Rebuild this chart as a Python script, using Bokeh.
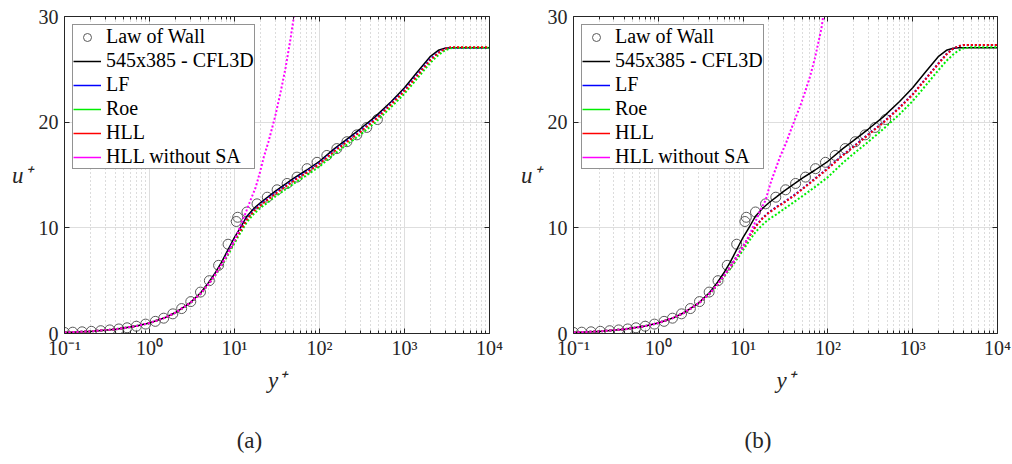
from bokeh.plotting import figure
from bokeh.models import (Range1d, FixedTicker, LogAxis, LinearAxis, Legend, LegendItem,
                          CustomJSTickFormatter)
from bokeh.layouts import row
from bokeh.embed import file_html
from bokeh.resources import INLINE

# ---------------- data ----------------
wall_yp = [0.1, 0.125, 0.161, 0.207, 0.267, 0.341, 0.436, 0.545, 0.70, 0.90, 1.17, 1.47,
           1.88, 2.39, 3.06, 3.98, 5.06, 6.5, 8.4, 10.5, 10.9, 14.0, 18.4, 24.3, 31.7, 41.6,
           54.4, 71.4, 93.6, 122, 160, 210, 275, 360, 480]
wall_up = [0.1, 0.125, 0.16, 0.205, 0.265, 0.34, 0.43, 0.54, 0.69, 0.89, 1.15, 1.45,
           1.86, 2.36, 3.02, 3.92, 5.0, 6.45, 8.45, 10.6, 11.0, 11.5, 12.27, 12.9, 13.6, 14.2,
           14.8, 15.6, 16.2, 16.85, 17.5, 18.15, 18.8, 19.5, 20.25]

grid_yp = [0.1, 0.2, 0.4, 0.7, 1, 1.5, 2, 3, 4, 5, 6, 7, 8, 9, 10, 11, 12, 14, 17, 20,
           25, 30, 40, 50, 70, 100, 150, 200, 300, 450, 700, 1000, 1400, 2000, 2500,
           3000, 3500, 4000, 5000, 10000]

cfl3d_up = [0.1, 0.2, 0.4, 0.7, 0.99, 1.48, 1.96, 2.9, 3.85, 4.85, 5.8, 6.7, 7.6, 8.4, 9.1,
            9.65, 10.15, 11.1, 11.85, 12.35, 12.95, 13.45, 14.15, 14.7, 15.45, 16.3, 17.5,
            18.25, 19.35, 20.5, 21.95, 23.25, 24.7, 26.2, 26.8, 27.0, 27.05, 27.05, 27.05, 27.05]

# panel (a)
a_lf_up = [0.1, 0.2, 0.4, 0.7, 0.99, 1.48, 1.95, 2.88, 3.8, 4.8, 5.7, 6.55, 7.4, 8.2, 8.85,
           9.45, 9.95, 10.9, 11.7, 12.2, 12.8, 13.3, 14.0, 14.55, 15.3, 16.15, 17.35, 18.1,
           19.15, 20.3, 21.8, 23.05, 24.45, 25.95, 26.6, 26.95, 27.05, 27.05, 27.05, 27.05]
a_roe_up = [0.1, 0.2, 0.4, 0.7, 0.99, 1.48, 1.94, 2.86, 3.75, 4.7, 5.55, 6.35, 7.15, 7.9, 8.55,
            9.15, 9.65, 10.55, 11.35, 11.85, 12.45, 12.95, 13.65, 14.2, 14.95, 15.8, 17.0, 17.75,
            18.8, 19.95, 21.45, 22.7, 24.1, 25.6, 26.35, 26.8, 27.0, 27.05, 27.05, 27.05]
a_hll_up = [0.1, 0.2, 0.4, 0.7, 0.99, 1.48, 1.95, 2.88, 3.78, 4.75, 5.65, 6.5, 7.3, 8.1, 8.75,
            9.35, 9.85, 10.8, 11.6, 12.1, 12.7, 13.2, 13.9, 14.45, 15.2, 16.05, 17.25, 18.0,
            19.05, 20.2, 21.7, 22.95, 24.35, 25.85, 26.55, 26.95, 27.1, 27.1, 27.1, 27.1]
a_nosa_yp = [0.1, 0.2, 0.4, 0.7, 1, 1.5, 2, 3, 4, 5, 6, 7, 8, 9, 10, 11, 12, 13.5, 15.4,
             17.7, 20, 22.1, 25, 30, 35, 40, 45, 50, 54]
a_nosa_up = [0.1, 0.2, 0.4, 0.7, 0.99, 1.48, 1.95, 2.87, 3.77, 4.7, 5.6, 6.45, 7.3, 8.1, 8.8,
             9.6, 10.4, 11.4, 12.6, 13.8, 15.3, 16.7, 18.1, 20.5, 22.9, 25.2, 27.6, 30.0, 31.9]

# panel (b)
b_lf_up = [0.1, 0.2, 0.4, 0.7, 0.99, 1.48, 1.95, 2.87, 3.76, 4.67, 5.52, 6.28, 7.0, 7.65, 8.25,
           8.8, 9.3, 10.15, 10.95, 11.45, 12.0, 12.4, 13.1, 13.7, 14.65, 15.65, 16.9, 17.7,
           18.85, 20.0, 21.4, 22.65, 24.05, 25.55, 26.45, 26.95, 27.2, 27.3, 27.3, 27.3]
b_roe_up = [0.1, 0.2, 0.4, 0.7, 0.99, 1.48, 1.94, 2.85, 3.72, 4.6, 5.4, 6.1, 6.75, 7.35, 7.9,
            8.4, 8.85, 9.6, 10.3, 10.8, 11.3, 11.75, 12.45, 13.0, 13.85, 14.8, 16.15, 17.0,
            18.15, 19.35, 20.75, 22.0, 23.4, 24.9, 25.8, 26.4, 26.8, 27.0, 27.1, 27.1]
b_hll_up = [0.1, 0.2, 0.4, 0.7, 0.99, 1.48, 1.95, 2.87, 3.75, 4.65, 5.5, 6.25, 6.95, 7.6, 8.2,
            8.75, 9.25, 10.1, 10.9, 11.4, 11.95, 12.35, 13.05, 13.65, 14.6, 15.6, 16.85, 17.65,
            18.8, 19.95, 21.35, 22.6, 24.0, 25.5, 26.4, 26.95, 27.2, 27.3, 27.3, 27.3]
b_nosa_yp = [0.1, 0.2, 0.4, 0.7, 1, 1.5, 2, 3, 4, 5, 6, 7, 8, 9, 10, 11, 12, 14, 16, 18.4,
             21, 24, 27.5, 32, 36, 41, 47.5, 54, 62, 70, 77, 84, 88, 92]
b_nosa_up = [0.1, 0.2, 0.4, 0.7, 0.99, 1.48, 1.95, 2.87, 3.75, 4.65, 5.5, 6.25, 6.95, 7.6, 8.2,
             8.8, 9.4, 10.6, 11.7, 12.6, 14.2, 15.5, 16.8, 18.0, 19.1, 20.3, 21.6, 22.9, 24.4,
             26.0, 27.5, 28.9, 30.0, 31.0]

x_ticks = [0.1, 1, 10, 100, 1000, 10000]
x_tick_labels = ["10⁻¹", "10⁰", "10¹", "10²", "10³", "10⁴"]
y_ticks = [0, 10, 20, 30]
legend_labels = ["Law of Wall", "545x385 - CFL3D", "LF", "Roe", "HLL", "HLL without SA"]
panel_tags = ["(a)", "(b)"]

# ---------------- style ----------------
FONT = "Liberation Serif"
AX = "#262626"
C_LF, C_ROE, C_HLL, C_NOSA = "#0000ff", "#00ee00", "#ff0000", "#ff00ff"
DOT = "2 2"
NAN = float("nan")
TAG_POS = 15   # horizontal anchor of the sub-caption (centred under the whole panel)


def make_panel(tag, lf, roe, hll, nosa_yp, nosa_up, border_left, border_right):
    minor = [m * 10.0 ** e for e in range(-1, 4) for m in range(2, 10)]
    xt = FixedTicker(ticks=x_ticks, minor_ticks=minor)
    yt = FixedTicker(ticks=y_ticks)
    p = figure(width=506, height=464, x_axis_type="log",
               x_range=Range1d(0.1, 10000), y_range=Range1d(0, 30),
               output_backend="svg", toolbar_location=None,
               min_border_left=border_left, min_border_right=border_right,
               min_border_top=16, min_border_bottom=131)
    p.outline_line_color = None
    p.background_fill_color = "white"

    # axes
    xa = p.xaxis[0]
    xa.ticker = xt
    xa.major_label_overrides = {k: v for k, v in zip([0.1, 1, 10, 100, 1000, 10000], x_tick_labels)}
    ya = p.yaxis[0]
    ya.ticker = yt
    for ax in (xa, ya):
        ax.axis_line_color = AX
        ax.major_tick_line_color = AX
        ax.minor_tick_line_color = AX
        ax.major_tick_in = 5
        ax.major_tick_out = 0
        ax.minor_tick_in = 3
        ax.minor_tick_out = 0
        ax.major_label_text_font = FONT
        ax.major_label_text_font_size = "20px"
        ax.major_label_text_color = AX
        ax.axis_label_text_font = FONT
        ax.axis_label_text_font_size = "23px"
        ax.axis_label_text_font_style = "italic"
        ax.axis_label_text_color = AX
    xa.axis_label = "y⁺"
    xa.major_label_standoff = 3
    xa.axis_label_standoff = 6
    ya.axis_label = "u⁺"
    ya.axis_label_orientation = "horizontal"
    ya.major_label_standoff = 6
    ya.axis_label_standoff = 4

    empty = CustomJSTickFormatter(code="return ''")
    top = LogAxis(ticker=xt, formatter=empty, axis_line_color=AX, major_tick_line_color=AX,
                  minor_tick_line_color=AX, major_tick_in=5, major_tick_out=0,
                  minor_tick_in=3, minor_tick_out=0, major_label_standoff=0)
    right = LinearAxis(ticker=yt, formatter=CustomJSTickFormatter(code="return ''"),
                       axis_line_color=AX, major_tick_line_color=AX,
                       major_tick_in=5, major_tick_out=0, minor_tick_in=0, minor_tick_out=0,
                       major_label_standoff=0)
    p.add_layout(top, "above")
    p.add_layout(right, "right")

    # sub-caption "(a)"/"(b)" as the single label of a bare axis stacked under the x axis
    tag_axis = LogAxis(ticker=FixedTicker(ticks=[TAG_POS]), axis_line_color=None,
                       major_tick_line_color=None, minor_tick_line_color=None,
                       major_tick_in=0, major_tick_out=0,
                       major_label_overrides={TAG_POS: tag}, major_label_standoff=32,
                       major_label_text_font=FONT, major_label_text_font_size="23px",
                       major_label_text_color=AX)
    p.add_layout(tag_axis, "below")

    # grids
    p.xgrid.ticker = xt
    p.xgrid.grid_line_color = "#dedede"
    p.xgrid.minor_grid_line_color = "#b8b8b8"
    p.xgrid.minor_grid_line_dash = "1 3"
    p.ygrid.ticker = yt
    p.ygrid.grid_line_color = "#dedede"

    # data
    r_circ = p.scatter(wall_yp, wall_up, marker="circle", size=10, fill_color=None,
                       line_color="#5a5a5a", line_width=1)
    r_cfl = p.line(grid_yp, cfl3d_up, line_color="black", line_width=1.5)
    p.line(grid_yp, lf, line_color=C_LF, line_width=2, line_dash=DOT)
    p.line(grid_yp, roe, line_color=C_ROE, line_width=2, line_dash=DOT)
    p.line(grid_yp, hll, line_color=C_HLL, line_width=2, line_dash=DOT)
    p.line(nosa_yp, nosa_up, line_color=C_NOSA, line_width=2, line_dash=DOT)

    # legend samples (solid lines, as in the original legend)
    d_lf = p.line([NAN, NAN], [NAN, NAN], line_color=C_LF, line_width=1.5)
    d_roe = p.line([NAN, NAN], [NAN, NAN], line_color=C_ROE, line_width=1.5)
    d_hll = p.line([NAN, NAN], [NAN, NAN], line_color=C_HLL, line_width=1.5)
    d_nosa = p.line([NAN, NAN], [NAN, NAN], line_color=C_NOSA, line_width=1.5)
    items = [LegendItem(label=lab, renderers=[r]) for lab, r in
             zip(legend_labels, [r_circ, r_cfl, d_lf, d_roe, d_hll, d_nosa])]
    leg = Legend(items=items, location="top_left", margin=8, padding=0, spacing=1,
                 glyph_width=28, glyph_height=20, label_height=20, label_standoff=5,
                 label_text_font=FONT, label_text_font_size="20px", label_text_color="black",
                 border_line_color=AX, border_line_width=1, background_fill_color="white",
                 background_fill_alpha=1.0)
    p.add_layout(leg, "center")
    return p


p1 = make_panel(panel_tags[0], a_lf_up, a_roe_up, a_hll_up, a_nosa_yp, a_nosa_up, 64, 17)
p2 = make_panel(panel_tags[1], b_lf_up, b_roe_up, b_hll_up, b_nosa_yp, b_nosa_up, 67, 15)

layout = row(p1, p2)
open("out.html", "w").write(file_html(layout, INLINE))
